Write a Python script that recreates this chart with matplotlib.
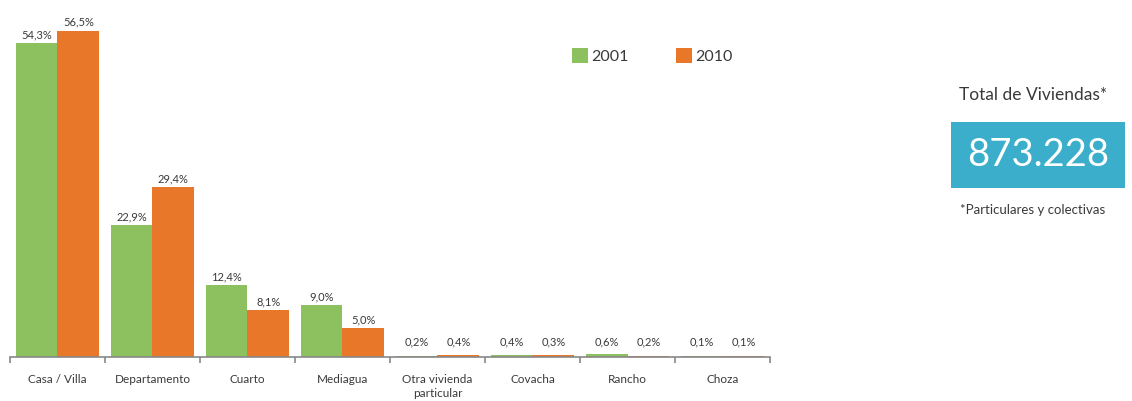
import matplotlib.pyplot as plt
import numpy as np

plt.rcParams['font.family'] = ['Lato', 'DejaVu Sans']

categories = ['Casa / Villa', 'Departamento', 'Cuarto', 'Mediagua',
              'Otra vivienda\nparticular', 'Covacha', 'Rancho', 'Choza']
v2001 = [54.3, 22.9, 12.4, 9.0, 0.2, 0.4, 0.6, 0.1]
v2010 = [56.5, 29.4, 8.1, 5.0, 0.4, 0.3, 0.2, 0.1]
total = '873.228'

green = '#8dc05f'
orange = '#e8772a'
text_col = '#3a3a3a'

fig = plt.figure(figsize=(11.32, 4.01), dpi=100)
ax = fig.add_axes([10 / 1132, 44 / 401, 760 / 1132, 357 / 401])

x = np.arange(len(categories))
w = 0.44
b1 = ax.bar(x - w / 2, v2001, w, color=green, label='2001')
b2 = ax.bar(x + w / 2, v2010, w, color=orange, label='2010')

ax.set_xlim(-0.5, len(categories) - 0.5)
ax.set_ylim(0, 61.8)

for bars, vals in ((b1, v2001), (b2, v2010)):
    for bar, v in zip(bars, vals):
        h = max(v, 1.2)
        ax.annotate(f'{v:.1f}%'.replace('.', ','),
                    xy=(bar.get_x() + bar.get_width() / 2, h),
                    xytext=(0, 2), textcoords='offset points',
                    ha='center', va='bottom', fontsize=8, color=text_col)

for s in ['top', 'right', 'left']:
    ax.spines[s].set_visible(False)
ax.spines['bottom'].set_color('#888888')
ax.spines['bottom'].set_linewidth(1.2)
ax.set_yticks([])
ax.set_xticks(x)
ax.set_xticklabels(categories, fontsize=8.5, color=text_col, linespacing=1.4)
ax.tick_params(axis='x', which='major', length=0, pad=12)
ax.set_xticks(np.arange(len(categories) + 1) - 0.5, minor=True)
ax.tick_params(axis='x', which='minor', length=4, width=1.2, color='#888888')

ax.legend(loc='upper left', bbox_to_anchor=(0.72, 0.905), ncol=2, frameon=False,
          fontsize=11.5, handlelength=1.0, handleheight=1.0, handletextpad=0.2,
          columnspacing=3.0, labelcolor=text_col)

# side panel
fig.text(1033 / 1132, 1 - 95 / 401, 'Total de Viviendas*', ha='center', va='center',
         fontsize=12.5, color=text_col)
box = fig.add_axes([951 / 1132, 1 - 188 / 401, 174 / 1132, 66 / 401])
box.set_facecolor('#3aaecb')
box.set_xticks([])
box.set_yticks([])
for s in box.spines.values():
    s.set_visible(False)
box.text(0.5, 0.5, total, ha='center', va='center', fontsize=27.5, color='white',
         transform=box.transAxes)
fig.text(1033 / 1132, 1 - 210 / 401, '*Particulares y colectivas', ha='center',
         va='center', fontsize=9.5, color=text_col)

fig.savefig('out.png', dpi=100, facecolor='white')
